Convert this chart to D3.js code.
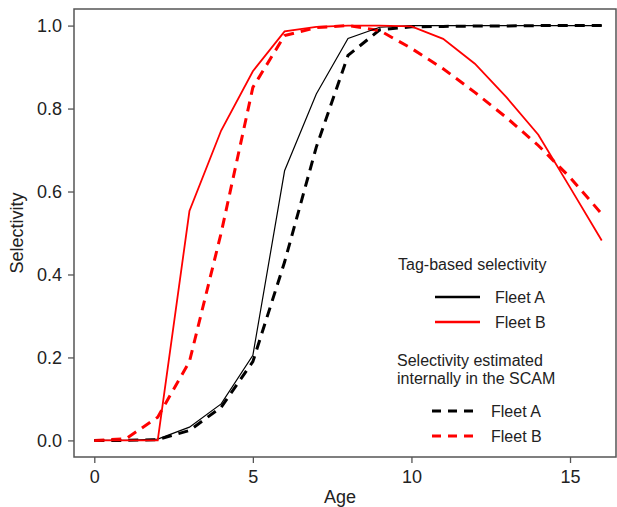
<!DOCTYPE html>
<html>
<head>
<meta charset="utf-8">
<script src="https://cdn.jsdelivr.net/npm/d3@7"></script>
<style>
  html, body { margin: 0; padding: 0; background: #fff; }
  svg { display: block; font-family: "Liberation Sans", Arial, sans-serif; }
</style>
</head>
<body>
<div id="chart"></div>
<script>
// Ages and selectivity values
const ages = [0, 1, 2, 3, 4, 5, 6, 7, 8, 9, 10, 11, 12, 13, 14, 15, 16];
const tagFleetA = [0, 0, 0.003, 0.032, 0.088, 0.205, 0.65, 0.835, 0.969, 0.996, 1, 1, 1, 1, 1, 1, 1];
const tagFleetB = [0, 0, 0, 0.553, 0.747, 0.89, 0.986, 0.997, 1, 1, 0.998, 0.968, 0.908, 0.827, 0.737, 0.61, 0.482];
const scamFleetA = [0, 0, 0.002, 0.024, 0.08, 0.19, 0.43, 0.707, 0.928, 0.99, 0.997, 0.998, 0.999, 0.999, 1, 1, 1];
const scamFleetB = [0, 0.004, 0.056, 0.19, 0.5, 0.851, 0.976, 0.995, 1, 0.988, 0.945, 0.896, 0.839, 0.778, 0.711, 0.634, 0.546];

const xTicks = [0, 5, 10, 15];
const yTicks = [0, 0.2, 0.4, 0.6, 0.8, 1.0];

// Chart dimensions (plot box runs off the right edge like the original)
const width = 617;
const height = 507;
const marginTop = 9;
const marginBottom = 50;
const marginLeft = 74;
const plotRight = 616;

const x = d3.scaleLinear([-0.64, 16.45], [marginLeft, plotRight]);
const y = d3.scaleLinear([-0.04, 1.04], [height - marginBottom, marginTop]);

const svg = d3.create("svg")
  .attr("width", width)
  .attr("height", height)
  .attr("viewBox", [0, 0, width, height]);

d3.select("#chart").append(() => svg.node());

const axisColor = "#555";

// x-axis
svg.append("g")
  .attr("transform", `translate(0,${height - marginBottom})`)
  .call(d3.axisBottom(x).tickValues(xTicks).tickSize(6).tickPadding(7).tickFormat(d3.format("d")))
  .call(g => g.select(".domain").remove())
  .call(g => g.selectAll(".tick line").attr("stroke", axisColor).attr("stroke-width", 1.3))
  .call(g => g.selectAll(".tick text").attr("font-size", 18).attr("fill", "#222")
    .attr("font-family", "Liberation Sans, Arial, sans-serif"));

// y-axis
svg.append("g")
  .attr("transform", `translate(${marginLeft},0)`)
  .call(d3.axisLeft(y).tickValues(yTicks).tickSize(6).tickPadding(6).tickFormat(d3.format(".1f")))
  .call(g => g.select(".domain").remove())
  .call(g => g.selectAll(".tick line").attr("stroke", axisColor).attr("stroke-width", 1.3))
  .call(g => g.selectAll(".tick text").attr("font-size", 18).attr("fill", "#222")
    .attr("font-family", "Liberation Sans, Arial, sans-serif"));

// plot box
svg.append("rect")
  .attr("x", marginLeft)
  .attr("y", marginTop)
  .attr("width", plotRight - marginLeft)
  .attr("height", height - marginBottom - marginTop)
  .attr("fill", "none")
  .attr("stroke", axisColor)
  .attr("stroke-width", 1.5);

// axis titles
svg.append("text")
  .attr("x", (x(0) + x(16)) / 2 - 8)
  .attr("y", 503)
  .attr("text-anchor", "middle")
  .attr("font-size", 18)
  .attr("fill", "#222")
  .text("Age");

svg.append("text")
  .attr("transform", `translate(23,${(marginTop + height - marginBottom) / 2}) rotate(-90)`)
  .attr("text-anchor", "middle")
  .attr("font-size", 18)
  .attr("fill", "#222")
  .text("Selectivity");

// lines
const line = d3.line()
  .x((d, i) => x(ages[i]))
  .y(d => y(d));

const series = [
  {values: scamFleetA, color: "#000", width: 3, dash: "10,7"},
  {values: scamFleetB, color: "#ff0000", width: 3, dash: "10,7"},
  {values: tagFleetA, color: "#000", width: 1.2, dash: null},
  {values: tagFleetB, color: "#ff0000", width: 1.8, dash: null}
];

svg.append("g")
  .selectAll("path")
  .data(series)
  .join("path")
    .attr("fill", "none")
    .attr("stroke", d => d.color)
    .attr("stroke-width", d => d.width)
    .attr("stroke-dasharray", d => d.dash)
    .attr("d", d => line(d.values));

// legend
const legend = svg.append("g")
  .attr("font-size", 16)
  .attr("fill", "#222");

legend.append("text").attr("x", 398).attr("y", 270).text("Tag-based selectivity");
legend.append("text").attr("x", 397).attr("y", 366).text("Selectivity estimated");
legend.append("text").attr("x", 397).attr("y", 384).text("internally in the SCAM");

const legendItems = [
  {label: "Fleet A", color: "#000", width: 2.5, dash: null, x1: 435, x2: 480, ly: 297, tx: 495},
  {label: "Fleet B", color: "#ff0000", width: 2.5, dash: null, x1: 435, x2: 480, ly: 322, tx: 495},
  {label: "Fleet A", color: "#000", width: 3, dash: "9,7", x1: 432, x2: 477, ly: 411, tx: 491},
  {label: "Fleet B", color: "#ff0000", width: 3, dash: "9,7", x1: 432, x2: 477, ly: 436, tx: 491}
];

legendItems.forEach(d => {
  legend.append("line")
    .attr("x1", d.x1).attr("x2", d.x2)
    .attr("y1", d.ly).attr("y2", d.ly)
    .attr("stroke", d.color)
    .attr("stroke-width", d.width)
    .attr("stroke-dasharray", d.dash);
  legend.append("text")
    .attr("x", d.tx)
    .attr("y", d.ly + 6)
    .text(d.label);
});
</script>
</body>
</html>
